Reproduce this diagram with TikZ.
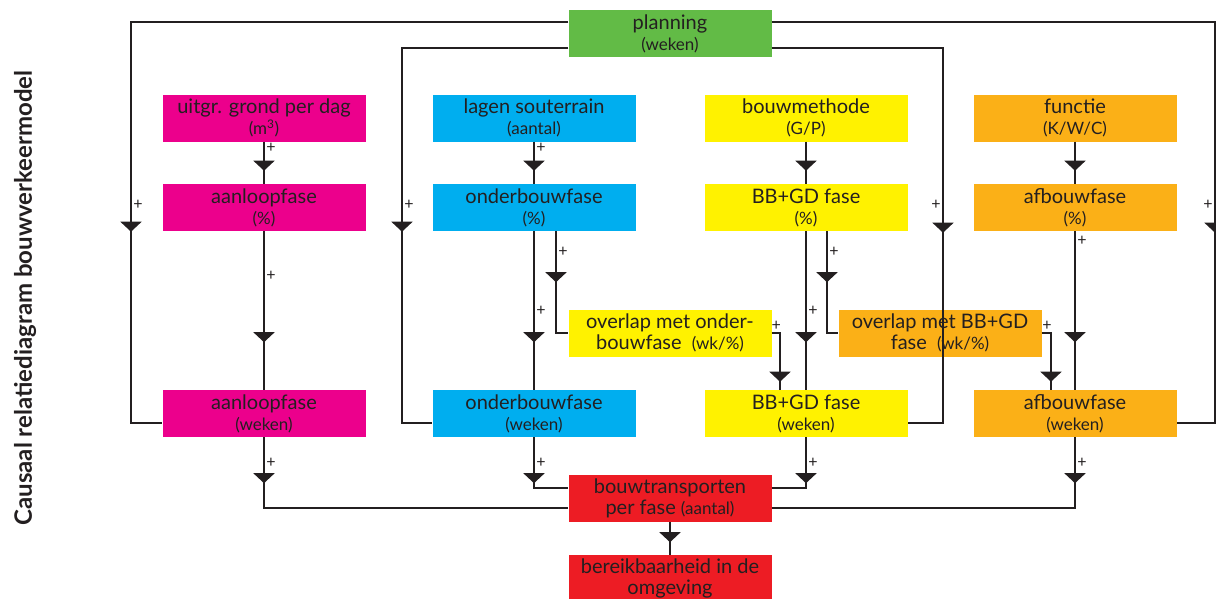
\documentclass[tikz,border=0pt]{standalone}
\usepackage{fontspec}
\setmainfont{Lato}
\usetikzlibrary{arrows.meta,decorations.markings}

\definecolor{lijn}{RGB}{35,31,32}
\definecolor{groen}{RGB}{98,187,70}
\definecolor{roze}{RGB}{236,0,140}
\definecolor{blauw}{RGB}{0,174,239}
\definecolor{geel}{RGB}{255,242,0}
\definecolor{oranje}{RGB}{251,176,23}
\definecolor{rood}{RGB}{237,28,36}

\newcommand{\maat}[1]{{\fontsize{17}{19}\selectfont #1}}

\tikzset{
	fase/.style={minimum width=203pt, minimum height=47pt, inner sep=0pt,
		align=center, text=lijn, font=\fontsize{20}{21}\selectfont},
	verband/.style={line width=1.8pt, draw=lijn},
	pijl/.style={postaction={decorate},
		decoration={markings, mark=at position #1 with {\arrow{Triangle[width=21pt,length=10pt]}}}},
	plus/.style={font=\fontsize{16}{16}\selectfont, text=lijn, inner sep=1.5pt}
}

\begin{document}
\begin{tikzpicture}[x=1pt, y=-1pt]
	\useasboundingbox (0,0) rectangle (1216,598);

	% titel
	\node[rotate=90, text=lijn, font=\fontsize{24}{28}\selectfont\bfseries] (titel) at (25,298)
		{Causaal relatiediagram bouwverkeermodel};

	% fasen
	\node[fase, fill=groen] (plan) at (670,33.5) {planning\\\maat{(weken)}};

	\node[fase, fill=roze] (grond) at (264,118) {uitgr. grond per dag\\\maat{(m\textsuperscript{3})}};
	\node[fase, fill=blauw] (lagen) at (534,118) {lagen souterrain\\\maat{(aantal)}};
	\node[fase, fill=geel] (methode) at (806,118) {bouwmethode\\\maat{(G/P)}};
	\node[fase, fill=oranje] (functie) at (1075,118) {functie\\\maat{(K/W/C)}};

	\node[fase, fill=roze] (aanloop) at (264,207.5) {aanloopfase\\\maat{(\%)}};
	\node[fase, fill=blauw] (onder) at (534,207.5) {onderbouwfase\\\maat{(\%)}};
	\node[fase, fill=geel] (bbgd) at (806,207.5) {BB+GD fase\\\maat{(\%)}};
	\node[fase, fill=oranje] (afbouw) at (1075,207.5) {afbouwfase\\\maat{(\%)}};

	\node[fase, fill=geel] (overlapO) at (670,333) {overlap met onder-\\bouwfase\ \ \maat{(wk/\%)}};
	\node[fase, fill=oranje] (overlapB) at (940,333) {overlap met BB+GD\\fase\ \ \maat{(wk/\%)}};

	\node[fase, fill=roze] (aanloopwk) at (264,413.5) {aanloopfase\\\maat{(weken)}};
	\node[fase, fill=blauw] (onderwk) at (534,413.5) {onderbouwfase\\\maat{(weken)}};
	\node[fase, fill=geel] (bbgdwk) at (806,413.5) {BB+GD fase\\\maat{(weken)}};
	\node[fase, fill=oranje] (afbouwwk) at (1075,413.5) {afbouwfase\\\maat{(weken)}};

	\node[fase, fill=rood] (transport) at (670,498.5) {bouwtransporten\\per fase \maat{(aantal)}};
	\node[fase, fill=rood] (bereik) at (670,578.5) {bereikbaarheid in de\\omgeving};

	% hoekpunten terugkoppeling
	\coordinate (buitenL) at (131,22);
	\coordinate (buitenLo) at (131,423);
	\coordinate (buitenR) at (1215,22);
	\coordinate (buitenRo) at (1215,423);
	\coordinate (binnenL) at (402,48);
	\coordinate (binnenLo) at (402,423);
	\coordinate (binnenR) at (943,48);
	\coordinate (binnenRo) at (943,423);

	% planning naar fasen (weken)
	\draw[verband, pijl=647pt] (buitenL -| plan.west) -- (buitenL)
		-- node[plus, right, pos=.456] {+} (buitenLo) -- (buitenLo -| aanloopwk.west);
	\draw[verband, pijl=654pt] (buitenR -| plan.east) -- (buitenR)
		-- node[plus, left, pos=.456] {+} (buitenRo) -- (buitenRo -| afbouwwk.east);
	\draw[verband, pijl=350pt] (binnenL -| plan.west) -- (binnenL)
		-- node[plus, right, pos=.419] {+} (binnenLo) -- (binnenLo -| onderwk.west);
	\draw[verband, pijl=356pt] (binnenR -| plan.east) -- (binnenR)
		-- node[plus, left, pos=.419] {+} (binnenRo) -- (binnenRo -| bbgdwk.east);

	% bovenste rij naar fasen (%)
	\draw[verband, pijl=29pt] (grond) -- node[plus, right, pos=.14] {+} (aanloop);
	\draw[verband, pijl=29pt] (lagen) -- node[plus, right, pos=.14] {+} (onder);
	\draw[verband, pijl=29pt] (methode) -- (bbgd);
	\draw[verband, pijl=29pt] (functie) -- (afbouw);

	% fasen (%) naar fasen (weken)
	\draw[verband, pijl=111pt] (aanloop) -- node[plus, right, pos=.28] {+} (aanloopwk);
	\draw[verband, pijl=111pt] (onder) -- node[plus, right, pos=.5] {+} (onderwk);
	\draw[verband, pijl=111pt] (bbgd) -- node[plus, right, pos=.5] {+} (bbgdwk);
	\draw[verband, pijl=111pt] (afbouw) -- node[plus, right, pos=.06] {+} (afbouwwk);

	% overlap
	\draw[verband, pijl=51pt] ([xshift=22pt]onder.south) |- node[plus, right, pos=.1] {+} (overlapO.west);
	\draw[verband, pijl=57pt] (overlapO.east) -| node[plus, above, pos=.28] {+} ([xshift=-26pt]bbgdwk.north);
	\draw[verband, pijl=51pt] ([xshift=21pt]bbgd.south) |- node[plus, right, pos=.1] {+} (overlapB.west);
	\draw[verband, pijl=58pt] (overlapB.east) -| node[plus, above, pos=.28] {+} ([xshift=-24pt]afbouwwk.north);

	% fasen (weken) naar bouwtransporten
	\draw[verband, pijl=46pt] (aanloopwk.south) |- node[plus, right, pos=.18] {+} ([yshift=-9.5pt]transport.west);
	\draw[verband, pijl=46pt] (onderwk.south) |- node[plus, right, pos=.25] {+} ([yshift=10.5pt]transport.west);
	\draw[verband, pijl=46pt] (bbgdwk.south) |- node[plus, right, pos=.25] {+} ([yshift=10.5pt]transport.east);
	\draw[verband, pijl=46pt] (afbouwwk.south) |- node[plus, right, pos=.18] {+} ([yshift=-9.5pt]transport.east);

	\draw[verband, pijl=20pt] (transport) -- (bereik);
\end{tikzpicture}
\end{document}
